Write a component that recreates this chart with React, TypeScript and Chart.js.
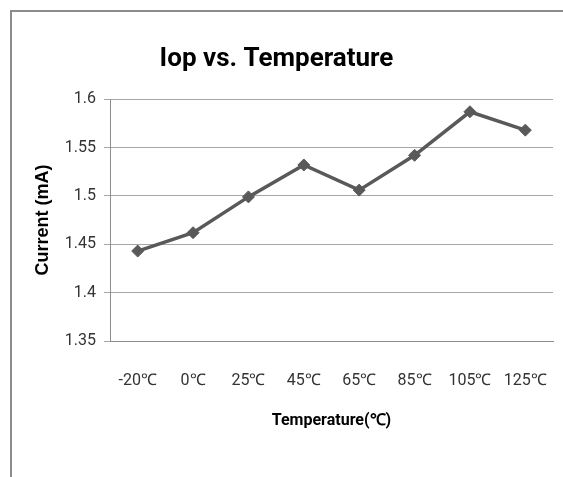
import React, { useEffect, useRef } from "react";
import { Chart, registerables } from "chart.js";

Chart.register(...registerables);

const categories = ["-20℃", "0℃", "25℃", "45℃", "65℃", "85℃", "105℃", "125℃"];
const currentValues = [1.443, 1.462, 1.499, 1.532, 1.506, 1.542, 1.587, 1.568];
const yTickLabels = ["1.35", "1.4", "1.45", "1.5", "1.55", "1.6"];
const chartTitle = "Iop vs. Temperature";
const xTitle = "Temperature(℃)";
const yTitle = "Current (mA)";

const NARROW = "Roboto, 'Liberation Sans', sans-serif";
const WIDE = "'Liberation Sans', Arial, sans-serif";

export default function App() {
  const ref = useRef<HTMLCanvasElement | null>(null);

  useEffect(() => {
    document.body.style.margin = "0";
    const canvas = ref.current;
    if (!canvas) return;
    const chart = new Chart(canvas, {
      type: "line",
      data: {
        labels: categories,
        datasets: [
          {
            label: "Current",
            data: currentValues,
            borderColor: "#595959",
            backgroundColor: "#595959",
            borderWidth: 3.5,
            pointStyle: "rectRot",
            pointRadius: 6,
            pointBorderWidth: 1,
            pointBackgroundColor: "#595959",
            pointBorderColor: "#595959",
            tension: 0,
          },
        ],
      },
      options: {
        animation: false,
        responsive: false,
        layout: { padding: { left: 0, right: 10, top: 0, bottom: 0 } },
        plugins: {
          legend: { display: false },
          tooltip: { enabled: false },
          title: {
            display: true,
            text: chartTitle,
            color: "#000000",
            font: { family: NARROW, size: 26, weight: "bold" },
            padding: { top: 44, bottom: 24 },
          },
        },
        scales: {
          x: {
            type: "category",
            offset: true,
            grid: { display: false, drawTicks: false },
            border: { display: true, color: "#8c8c8c", width: 1 },
            ticks: {
              color: "#333333",
              font: { family: NARROW, size: 16 },
              padding: 30,
              maxRotation: 0,
              autoSkip: false,
            },
            title: {
              display: true,
              text: xTitle,
              color: "#000000",
              font: { family: NARROW, size: 16, weight: "bold" },
              padding: { top: 0, bottom: 46 },
            },
            afterFit: (scale: any) => {
              scale.height = 136;
              scale.paddingLeft = 0;
              scale.paddingRight = 0;
            },
          },
          y: {
            min: 1.35,
            max: 1.6,
            grid: {
              color: "#a6a6a6",
              lineWidth: 1,
              tickLength: 6,
              drawTicks: true,
            },
            border: { display: true, color: "#8c8c8c", width: 1 },
            ticks: {
              stepSize: 0.05,
              color: "#333333",
              font: { family: NARROW, size: 16 },
              padding: 8,
              callback: (_v: any, i: number) => yTickLabels[i],
            },
            title: {
              display: true,
              text: yTitle,
              color: "#000000",
              font: { family: WIDE, size: 18, weight: "bold" },
              padding: { top: 32, bottom: 0 },
            },
            afterFit: (scale: any) => {
              scale.width = 110;
            },
          },
        },
      },
    });
    return () => chart.destroy();
  }, []);

  return (
    <div style={{ position: "absolute", left: 0, top: 0, width: 563, height: 477, background: "#ffffff" }}>
      <div
        style={{
          position: "absolute",
          left: 10,
          top: 10,
          width: 553,
          height: 467,
          borderLeft: "2px solid #8c8c8c",
          borderTop: "2px solid #8c8c8c",
          boxSizing: "border-box",
        }}
      />
      <canvas ref={ref} width={563} height={477} style={{ position: "absolute", left: 0, top: 0 }} />
    </div>
  );
}
